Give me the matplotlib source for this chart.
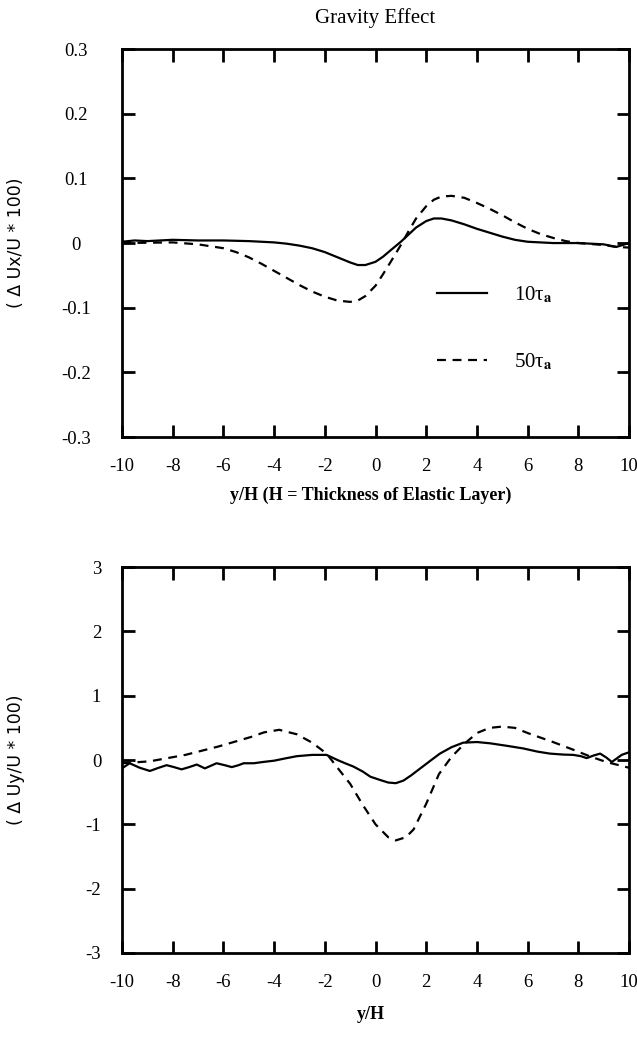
import numpy as np
import matplotlib.pyplot as plt

plt.rcParams['font.family'] = ['Liberation Serif', 'DejaVu Serif']
plt.rcParams['mathtext.fontset'] = 'stix'

# Top panel: horizontal displacement change (Ux)
x_ux_10 = [-10, -9.5, -9, -8, -7, -6, -5, -4, -3.5, -3, -2.5, -2, -1.5, -1, -0.7, -0.4, 0, 0.3, 0.6,
           1, 1.3, 1.6, 2, 2.3, 2.6, 3, 3.5, 4, 4.5, 5, 5.5, 6, 7, 8, 9, 9.5, 10]
ux_10 = [0.002, 0.004, 0.003, 0.005, 0.004, 0.004, 0.003, 0.001, -0.001, -0.004, -0.008, -0.014, -0.022,
         -0.030, -0.034, -0.034, -0.029, -0.021, -0.011, 0.002, 0.013, 0.024, 0.034, 0.038, 0.038, 0.035,
         0.029, 0.022, 0.016, 0.010, 0.005, 0.002, 0.0, 0.0, -0.002, -0.006, 0.0]
x_ux_50 = [-10, -8, -7, -6, -5.5, -5, -4.5, -4, -3.5, -3, -2.5, -2, -1.5, -1, -0.7, -0.4, 0, 0.3, 0.6,
           1, 1.3, 1.6, 2, 2.3, 2.6, 3, 3.5, 4, 4.5, 5, 5.5, 6, 6.5, 7, 7.5, 8, 9, 9.5, 10]
ux_50 = [0.0, 0.001, -0.002, -0.008, -0.014, -0.022, -0.032, -0.043, -0.054, -0.065, -0.075, -0.083,
         -0.089, -0.091, -0.089, -0.082, -0.066, -0.048, -0.029, -0.003, 0.018, 0.038, 0.057, 0.067,
         0.072, 0.073, 0.070, 0.062, 0.053, 0.043, 0.032, 0.022, 0.014, 0.008, 0.003, 0.0, -0.003,
         -0.006, -0.007]

# Bottom panel: vertical displacement change (Uy)
x_uy_10 = [-10, -9.7, -9.3, -8.9, -8.55, -8.24, -7.95, -7.65, -7.35, -7.05, -6.73, -6.5, -6.27, -5.95,
           -5.67, -5.4, -5.2, -4.8, -4.43, -4, -3.5, -3.1, -2.5, -1.93, -1.5, -1.2, -0.88, -0.5, -0.2,
           0.18, 0.5, 0.8, 1.1, 1.4, 1.8, 2.2, 2.54, 3, 3.46, 4, 4.52, 5.2, 5.83, 6.4, 6.88, 7.4, 7.8,
           8.1, 8.33, 8.6, 8.86, 9.1, 9.32, 9.5, 9.71, 9.85, 10]
uy_10 = [-0.13, -0.05, -0.12, -0.17, -0.12, -0.08, -0.11, -0.145, -0.11, -0.07, -0.13, -0.09, -0.05,
         -0.08, -0.11, -0.08, -0.05, -0.05, -0.03, -0.01, 0.03, 0.06, 0.08, 0.08, 0.0, -0.05, -0.10,
         -0.18, -0.26, -0.31, -0.35, -0.36, -0.32, -0.24, -0.12, 0.0, 0.10, 0.20, 0.27, 0.28, 0.26,
         0.22, 0.18, 0.13, 0.10, 0.085, 0.08, 0.06, 0.03, 0.07, 0.10, 0.04, -0.03, 0.02, 0.08, 0.10,
         0.12]
x_uy_50 = [-10, -8.9, -7.5, -6.2, -4.9, -4.4, -3.8, -3.1, -2.5, -1.93, -1.5, -1, -0.5, 0, 0.5, 0.8,
           1.2, 1.5, 2, 2.5, 3, 3.5, 4, 4.5, 5, 5.5, 6, 7, 7.8, 8.5, 9.1, 9.8, 10]
uy_50 = [-0.05, -0.02, 0.08, 0.21, 0.36, 0.43, 0.47, 0.40, 0.27, 0.10, -0.12, -0.37, -0.70, -1.0,
         -1.2, -1.25, -1.2, -1.08, -0.68, -0.22, 0.05, 0.25, 0.42, 0.50, 0.52, 0.50, 0.42, 0.28, 0.16,
         0.05, -0.03, -0.10, -0.12]

xticks = np.arange(-10, 11, 2)
ux_ticks = [-0.3, -0.2, -0.1, 0, 0.1, 0.2, 0.3]
ux_labels = ['-0.3', '-0.2', '-0.1', '0', '0.1', '0.2', '0.3']
uy_ticks = [-3, -2, -1, 0, 1, 2, 3]
labels = ['10τ$_{\\mathbf{a}}$', '50τ$_{\\mathbf{a}}$']

fig = plt.figure(figsize=(6.37, 10.4), dpi=100)
ax1 = fig.add_axes([0.1915, 0.5798, 0.796, 0.373])
ax2 = fig.add_axes([0.1915, 0.0837, 0.796, 0.371])


def style(ax):
    for s in ax.spines.values():
        s.set_linewidth(2)
    ax.tick_params(direction='in', length=9, width=2, top=True, right=True, labelsize=13.5)
    ax.tick_params(axis='x', pad=15)
    ax.set_xticks(xticks)
    ax.set_xticklabels([str(t) for t in xticks])
    ax.set_xlim(-10, 10)


ax1.plot(x_ux_10, ux_10, color='black', lw=1.6, label=labels[0])
ax1.plot(x_ux_50, ux_50, color='black', lw=1.6, ls=(0, (4, 3)), label=labels[1])
style(ax1)
ax1.set_ylim(-0.3, 0.3)
ax1.set_yticks(ux_ticks)
ax1.set_yticklabels(ux_labels, ha='center')
ax1.tick_params(axis='y', pad=33)
ax1.set_title('Gravity Effect', fontsize=15, pad=19)
ax1.set_xlabel('y/H (H = Thickness of Elastic Layer)', fontsize=13, fontweight='bold')
ax1.xaxis.set_label_coords(0.49, -0.128)
ax1.set_ylabel('( Δ Ux/U * 100)', fontsize=12.5, family='DejaVu Sans')
ax1.yaxis.set_label_coords(-0.191, 0.5)
ax1.legend(loc='upper left', bbox_to_anchor=(0.585, 0.44), frameon=False,
           fontsize=15, handlelength=2.4, handletextpad=1.3, labelspacing=2.2)

ax2.plot(x_uy_10, uy_10, color='black', lw=1.6)
ax2.plot(x_uy_50, uy_50, color='black', lw=1.6, ls=(0, (4, 3)))
style(ax2)
ax2.set_ylim(-3, 3)
ax2.set_yticks(uy_ticks)
ax2.set_yticklabels([str(t) for t in uy_ticks])
ax2.tick_params(axis='y', pad=15)
ax2.set_xlabel('y/H', fontsize=13, fontweight='bold')
ax2.xaxis.set_label_coords(0.49, -0.138)
ax2.set_ylabel('( Δ Uy/U * 100)', fontsize=12.5, family='DejaVu Sans')
ax2.yaxis.set_label_coords(-0.191, 0.5)

plt.savefig('out.png', dpi=100)
